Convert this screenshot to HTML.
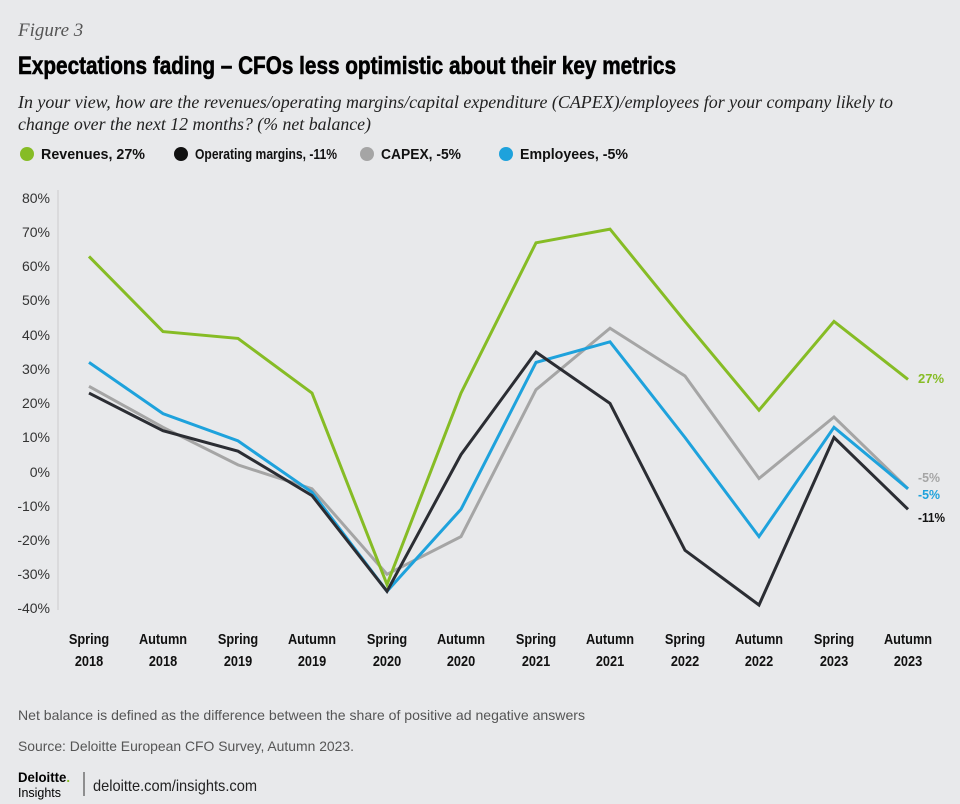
<!DOCTYPE html>
<html><head><meta charset="utf-8"><style>
html,body{margin:0;padding:0;background:#e8e9eb;}
body{width:960px;height:804px;overflow:hidden;font-family:"Liberation Sans",sans-serif;}
</style></head><body>
<svg width="960" height="804" xmlns="http://www.w3.org/2000/svg" style="display:block">
<rect width="960" height="804" fill="#e8e9eb"/>
<text x="18" y="36" font-family="Liberation Serif" font-style="italic" font-size="19" fill="#555">Figure 3</text>
<text x="18" y="74" font-family="Liberation Sans Narrow, Liberation Sans" font-weight="bold" font-size="25" fill="#000" stroke="#000" stroke-width="0.6" textLength="658" lengthAdjust="spacingAndGlyphs">Expectations fading – CFOs less optimistic about their key metrics</text>
<text x="18" y="108" font-family="Liberation Serif" font-style="italic" font-size="17.5" fill="#222" textLength="875" lengthAdjust="spacingAndGlyphs">In your view, how are the revenues/operating margins/capital expenditure (CAPEX)/employees for your company likely to</text>
<text x="18" y="130" font-family="Liberation Serif" font-style="italic" font-size="17.5" fill="#222" textLength="353" lengthAdjust="spacingAndGlyphs">change over the next 12 months? (% net balance)</text>
<g font-weight="bold" font-size="15" fill="#111">
<circle cx="27" cy="154" r="7" fill="#86bc25"/><text x="41" y="159" textLength="104" lengthAdjust="spacingAndGlyphs">Revenues, 27%</text>
<circle cx="181" cy="154" r="7" fill="#111"/><text x="195" y="159" textLength="142" lengthAdjust="spacingAndGlyphs">Operating margins, -11%</text>
<circle cx="367" cy="154" r="7" fill="#a5a5a5"/><text x="381" y="159" textLength="80" lengthAdjust="spacingAndGlyphs">CAPEX, -5%</text>
<circle cx="506" cy="154" r="7" fill="#1ea2dc"/><text x="520" y="159" textLength="108" lengthAdjust="spacingAndGlyphs">Employees, -5%</text>
</g>
<g font-size="14" fill="#333" text-anchor="end">
<text x="50" y="203">80%</text><text x="50" y="237">70%</text><text x="50" y="271">60%</text><text x="50" y="305">50%</text><text x="50" y="340">40%</text><text x="50" y="374">30%</text><text x="50" y="408">20%</text><text x="50" y="442">10%</text><text x="50" y="477">0%</text><text x="50" y="511">-10%</text><text x="50" y="545">-20%</text><text x="50" y="579">-30%</text><text x="50" y="613">-40%</text>
</g>
<line x1="58" y1="190" x2="58" y2="610" stroke="#ccc" stroke-width="1"/>
<g font-weight="bold" font-size="15" fill="#111" text-anchor="middle">
<g transform="translate(89,0) scale(0.85,1)"><text x="0" y="644">Spring</text><text x="0" y="666">2018</text></g>
<g transform="translate(163,0) scale(0.85,1)"><text x="0" y="644">Autumn</text><text x="0" y="666">2018</text></g>
<g transform="translate(238,0) scale(0.85,1)"><text x="0" y="644">Spring</text><text x="0" y="666">2019</text></g>
<g transform="translate(312,0) scale(0.85,1)"><text x="0" y="644">Autumn</text><text x="0" y="666">2019</text></g>
<g transform="translate(387,0) scale(0.85,1)"><text x="0" y="644">Spring</text><text x="0" y="666">2020</text></g>
<g transform="translate(461,0) scale(0.85,1)"><text x="0" y="644">Autumn</text><text x="0" y="666">2020</text></g>
<g transform="translate(536,0) scale(0.85,1)"><text x="0" y="644">Spring</text><text x="0" y="666">2021</text></g>
<g transform="translate(610,0) scale(0.85,1)"><text x="0" y="644">Autumn</text><text x="0" y="666">2021</text></g>
<g transform="translate(685,0) scale(0.85,1)"><text x="0" y="644">Spring</text><text x="0" y="666">2022</text></g>
<g transform="translate(759,0) scale(0.85,1)"><text x="0" y="644">Autumn</text><text x="0" y="666">2022</text></g>
<g transform="translate(834,0) scale(0.85,1)"><text x="0" y="644">Spring</text><text x="0" y="666">2023</text></g>
<g transform="translate(908,0) scale(0.85,1)"><text x="0" y="644">Autumn</text><text x="0" y="666">2023</text></g>
</g>
<g fill="none" stroke-width="3" stroke-linejoin="miter">
<polyline stroke="#a5a5a5" points="89,386.3 163,427.3 238,464.9 312,488.8 387,574.3 461,536.6 536,389.7 610,328.2 685,376.0 759,478.5 834,417.0 908,488.8"/>
<polyline stroke="#1ea2dc" points="89,362.4 163,413.6 238,440.9 312,492.2 387,591.3 461,509.3 536,362.4 610,341.8 685,437.5 759,536.6 834,427.3 908,488.8"/>
<polyline stroke="#2b2d33" points="89,393.1 163,430.7 238,451.2 312,495.6 387,591.3 461,454.6 536,352.1 610,403.4 685,550.3 759,605.0 834,437.5 908,509.3"/>
<polyline stroke="#86bc25" points="89,256.4 163,331.6 238,338.4 312,393.1 387,584.5 461,393.1 536,242.8 610,229.1 685,321.4 759,410.2 834,321.4 908,379.4"/>
</g>
<g font-weight="bold" font-size="13">
<text x="918" y="383" fill="#86bc25" textLength="26" lengthAdjust="spacingAndGlyphs">27%</text>
<text x="918" y="482" fill="#a5a5a5" textLength="22" lengthAdjust="spacingAndGlyphs">-5%</text>
<text x="918" y="499" fill="#1ea2dc" textLength="22" lengthAdjust="spacingAndGlyphs">-5%</text>
<text x="918" y="522" fill="#111" textLength="27" lengthAdjust="spacingAndGlyphs">-11%</text>
</g>
<text x="18" y="720" font-size="14" fill="#555" textLength="567" lengthAdjust="spacingAndGlyphs">Net balance is defined as the difference between the share of positive ad negative answers</text>
<text x="18" y="751" font-size="14" fill="#555" textLength="336" lengthAdjust="spacingAndGlyphs">Source: Deloitte European CFO Survey, Autumn 2023.</text>
<text x="18" y="782" font-size="14" font-weight="bold" fill="#000" textLength="52" lengthAdjust="spacingAndGlyphs">Deloitte<tspan fill="#86bc25">.</tspan></text>
<text x="18" y="797" font-size="13" fill="#000" textLength="43" lengthAdjust="spacingAndGlyphs">Insights</text>
<line x1="84" y1="772" x2="84" y2="796" stroke="#333" stroke-width="1"/>
<text x="93" y="791" font-size="16" fill="#222" textLength="164" lengthAdjust="spacingAndGlyphs">deloitte.com/insights.com</text>
</svg>
</body></html>
